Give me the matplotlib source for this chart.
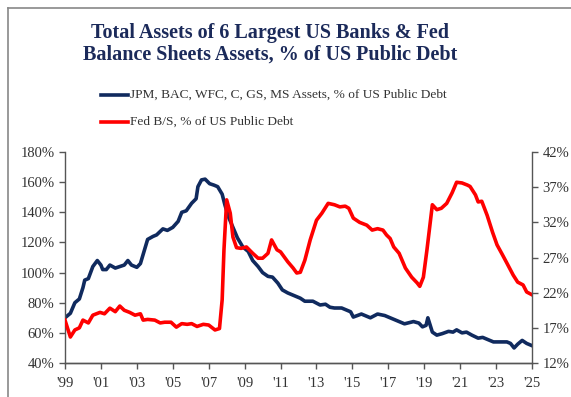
import matplotlib
matplotlib.use("Agg")
import matplotlib.pyplot as plt
from matplotlib.lines import Line2D
from matplotlib.ticker import FuncFormatter

# Big 6 banks total assets, % of US public debt (left axis)
bank_years = [1999.0, 1999.3, 1999.55, 1999.8, 2000.0, 2000.1, 2000.3, 2000.55, 2000.8,
              2001.0, 2001.1, 2001.3, 2001.5, 2001.8, 2002.05, 2002.3, 2002.5, 2002.7,
              2003.0, 2003.2, 2003.35, 2003.6, 2003.9, 2004.1, 2004.45, 2004.7, 2005.0,
              2005.3, 2005.5, 2005.75, 2006.05, 2006.3, 2006.4, 2006.6, 2006.8, 2007.05,
              2007.3, 2007.5, 2007.75, 2007.9, 2008.1, 2008.35, 2008.6, 2008.9, 2009.2,
              2009.45, 2009.75, 2010.0, 2010.3, 2010.55, 2010.85, 2011.1, 2011.4, 2011.7,
              2012.1, 2012.35, 2012.8, 2013.2, 2013.5, 2013.75, 2014.0, 2014.4, 2014.7,
              2014.9, 2015.05, 2015.5, 2016.0, 2016.4, 2016.8, 2017.1, 2017.5, 2017.9,
              2018.4, 2018.7, 2018.9, 2019.1, 2019.2, 2019.45, 2019.7, 2020.0, 2020.35,
              2020.6, 2020.8, 2021.1, 2021.35, 2021.65, 2022.0, 2022.25, 2022.55, 2022.85,
              2023.2, 2023.6, 2023.8, 2024.0, 2024.2, 2024.45, 2024.7, 2025.0]
bank_pct = [70, 73, 80, 82.5, 90, 95, 96, 104, 108,
            105, 102, 102, 105, 103, 104, 105, 108, 105,
            103.5, 106, 112, 122, 124, 125, 129, 128, 130,
            134, 140, 141, 146, 149, 157, 161.5, 162, 159,
            158, 157, 152, 145, 137, 130, 123, 117, 114,
            108, 104, 100, 97.5, 97, 93, 88.5, 86.5, 85,
            83, 81, 81, 78.5, 79, 77, 76.5, 76.5, 75,
            74, 70.5, 72.5, 70, 72.5, 71.5, 70, 68, 66,
            67.5, 66.5, 64, 65, 70, 60.5, 58.5, 59.5, 61,
            60.5, 62, 60, 60.5, 58.5, 56.5, 57, 55.5, 54,
            54, 54, 53, 50, 52.5, 55, 53, 51.5]

# Fed balance sheet, % of US public debt (right axis)
fed_years = [1999.0, 1999.3, 1999.55, 1999.8, 2000.0, 2000.3, 2000.55, 2000.95, 2001.2,
             2001.5, 2001.8, 2002.05, 2002.3, 2002.6, 2002.9, 2003.2, 2003.35, 2003.6,
             2004.0, 2004.3, 2004.55, 2004.9, 2005.2, 2005.5, 2005.8, 2006.05, 2006.35,
             2006.7, 2007.0, 2007.35, 2007.6, 2007.75, 2007.85, 2008.0, 2008.2, 2008.35,
             2008.55, 2008.8, 2009.1, 2009.45, 2009.75, 2010.0, 2010.3, 2010.5, 2010.8,
             2011.0, 2011.4, 2011.7, 2011.9, 2012.1, 2012.35, 2012.65, 2013.0, 2013.3,
             2013.65, 2014.0, 2014.3, 2014.6, 2014.8, 2015.05, 2015.4, 2015.8, 2016.1,
             2016.4, 2016.7, 2016.9, 2017.1, 2017.3, 2017.6, 2017.95, 2018.3, 2018.6,
             2018.75, 2018.95, 2019.15, 2019.45, 2019.7, 2019.95, 2020.25, 2020.55, 2020.8,
             2021.1, 2021.4, 2021.55, 2021.85, 2022.0, 2022.2, 2022.5, 2022.8, 2023.05,
             2023.35, 2023.6, 2023.95, 2024.2, 2024.5, 2024.7, 2025.0]
fed_pct = [18.1, 15.7, 16.7, 17.0, 18.1, 17.7, 18.8, 19.2, 19.0,
           19.8, 19.3, 20.1, 19.5, 19.2, 18.8, 19.0, 18.1, 18.2,
           18.1, 17.7, 17.8, 17.8, 17.1, 17.6, 17.5, 17.6, 17.2,
           17.5, 17.4, 16.7, 16.9, 21.0, 28.1, 35.2, 33.3, 29.9,
           28.4, 28.3, 28.5, 27.6, 26.9, 26.9, 27.6, 29.5, 28.1,
           27.8, 26.4, 25.5, 24.8, 24.9, 26.6, 29.5, 32.3, 33.3,
           34.7, 34.5, 34.2, 34.3, 34.0, 32.6, 32.0, 31.6, 30.9,
           31.1, 30.9, 30.2, 29.7, 28.5, 27.6, 25.5, 24.2, 23.4,
           22.9, 24.2, 28.1, 34.5, 33.8, 34.0, 34.7, 36.2, 37.7,
           37.6, 37.3, 37.1, 35.9, 34.9, 35.0, 33.0, 30.6, 28.8,
           27.4, 26.2, 24.5, 23.5, 23.1, 22.1, 21.7]

x_ticks = list(range(1999, 2026, 2))
x_labels = ["'%02d" % (y % 100) for y in x_ticks]
left_ticks = [40, 60, 80, 100, 120, 140, 160, 180]
right_ticks = [12, 17, 22, 27, 32, 37, 42]

navy = "#102a5e"
red = "#ff0000"
axis_grey = "#555555"
text_col = "#333333"

fig = plt.figure(figsize=(5.71, 3.97), dpi=100)
ax = fig.add_axes([0.1138, 0.0856, 0.818, 0.5315])
ax2 = ax.twinx()

ax.plot(bank_years, bank_pct, color=navy, lw=2.6, solid_joinstyle="round")
ax2.plot(fed_years, fed_pct, color=red, lw=2.6, solid_joinstyle="round")

ax.set_xlim(1999, 2025)
ax.set_ylim(40, 180)
ax2.set_ylim(12, 42)
ax.set_xticks(x_ticks)
ax.set_xticklabels(x_labels)
ax.set_yticks(left_ticks)
ax2.set_yticks(right_ticks)
pct = FuncFormatter(lambda v, p: "%d%%" % v)
ax.yaxis.set_major_formatter(pct)
ax2.yaxis.set_major_formatter(pct)

for a in (ax, ax2):
    a.spines["top"].set_visible(False)
    for s in ("left", "right", "bottom"):
        a.spines[s].set_color(axis_grey)
        a.spines[s].set_linewidth(1.0)
    a.tick_params(colors=axis_grey, length=4, width=1, labelcolor=text_col,
                  labelsize=10.5)
    for lab in a.get_xticklabels() + a.get_yticklabels():
        lab.set_fontfamily("Liberation Serif")
ax.spines["right"].set_visible(False)
ax2.spines["left"].set_visible(False)
ax.tick_params(axis="x", pad=6)

fig.text(270 / 571, 1 - 44 / 397, "Total Assets of 6 Largest US Banks & Fed\nBalance Sheets Assets, % of US Public Debt",
         ha="center", va="center", fontsize=14.5, fontweight="bold",
         family="Liberation Serif", color="#1b2a5a", linespacing=1.1)

# legend drawn by hand to match the stacked layout
ax_leg = fig.add_axes([0, 0, 1, 1], facecolor="none")
ax_leg.set_axis_off()
ax_leg.set_xlim(0, 571)
ax_leg.set_ylim(397, 0)
ax_leg.plot([101, 128], [95, 95], color=navy, lw=2.6)
ax_leg.plot([101, 128], [122, 122], color=red, lw=2.6)
ax_leg.text(130, 95, "JPM, BAC, WFC, C, GS, MS Assets, % of US Public Debt", va="center",
            ha="left", fontsize=9.6, family="Liberation Serif", color=text_col)
ax_leg.text(130, 122, "Fed B/S, % of US Public Debt", va="center",
            ha="left", fontsize=9.6, family="Liberation Serif", color=text_col)

# outer frame (top and left edges visible in the crop)
fig.add_artist(Line2D([8 / 571, 8 / 571], [0, 1 - 8 / 397], color="#888888", lw=1.2))
fig.add_artist(Line2D([8 / 571, 1], [1 - 8 / 397, 1 - 8 / 397], color="#888888", lw=1.2))

fig.savefig("out.png", dpi=100)
